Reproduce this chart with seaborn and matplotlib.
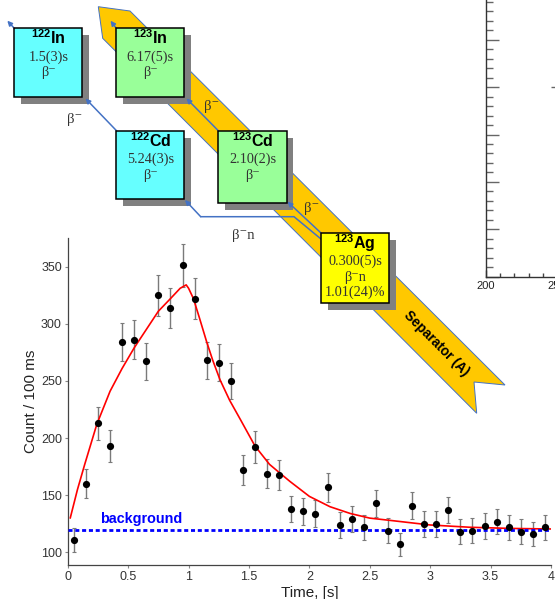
import matplotlib
matplotlib.use("Agg")
import matplotlib.pyplot as plt
import seaborn as sns
from matplotlib.patches import Polygon, Rectangle
from matplotlib.ticker import MultipleLocator

# ---------------- data ----------------
time_s = [0.05, 0.15, 0.25, 0.35, 0.45, 0.55, 0.65, 0.75, 0.85, 0.95,
          1.05, 1.15, 1.25, 1.35, 1.45, 1.55, 1.65, 1.75, 1.85, 1.95,
          2.05, 2.15, 2.25, 2.35, 2.45, 2.55, 2.65, 2.75, 2.85, 2.95,
          3.05, 3.15, 3.25, 3.35, 3.45, 3.55, 3.65, 3.75, 3.85, 3.95]
counts = [111, 160, 213, 193, 284, 286, 267, 325, 314, 351,
          322, 268, 266, 250, 172, 192, 169, 168, 138, 136,
          134, 157, 124, 129, 122, 143, 119, 107, 141, 125,
          125, 137, 118, 119, 123, 127, 122, 118, 116, 122]
count_err = [10.5, 12.6, 14.6, 13.9, 16.9, 16.9, 16.3, 18.0, 17.7, 18.7,
             17.9, 16.4, 16.3, 15.8, 13.1, 13.9, 13.0, 13.0, 11.7, 11.7,
             11.6, 12.5, 11.1, 11.4, 11.0, 12.0, 10.9, 10.3, 11.9, 11.2,
             11.2, 11.7, 10.9, 10.9, 11.1, 11.3, 11.0, 10.9, 10.8, 11.0]
fit_time = [0.02, 0.08, 0.14, 0.24, 0.35, 0.45, 0.55, 0.65, 0.75, 0.85,
            0.93, 0.98, 1.0, 1.04, 1.09, 1.15, 1.2, 1.26, 1.34, 1.43,
            1.55, 1.67, 1.76, 1.84, 2.0, 2.17, 2.34, 2.5, 2.67, 3.0,
            3.33, 3.66, 4.0]
fit_counts = [130, 155, 177, 212, 241, 261, 279, 295, 311, 322,
              331, 334, 331, 322, 305, 284, 268, 251, 233, 216,
              193, 177, 169, 162, 149, 140, 134, 130, 128, 124,
              122, 121, 120.5]
background_level = 119.5
x_ticks = [0, 0.5, 1, 1.5, 2, 2.5, 3, 3.5, 4]
x_tick_labels = ["0", "0.5", "1", "1.5", "2", "2.5", "3", "3.5", "4"]
y_ticks = [100, 150, 200, 250, 300, 350]
inset_x_ticks = [200, 250]
inset_x = [247.4]
inset_y = [4.0]

# ---------------- style ----------------
sns.set_style("ticks")
plt.rcParams["font.family"] = ["Liberation Sans", "DejaVu Sans"]
plt.rcParams["mathtext.fontset"] = "custom"
plt.rcParams["mathtext.rm"] = "Liberation Sans"
plt.rcParams["mathtext.bf"] = "Liberation Sans:bold"
plt.rcParams["mathtext.it"] = "Liberation Sans:italic"

W, H = 555, 599
fig = plt.figure(figsize=(W / 100, H / 100), dpi=100)

# ---------------- main axes ----------------
L, R, T, B = 67.8, 551, 238, 565
ax = fig.add_axes([L / W, 1 - B / H, (R - L) / W, (B - T) / H])
ax.errorbar(time_s, counts, yerr=count_err, fmt="none", ecolor="#7a7a7a",
            elinewidth=1.0, capsize=1.6, capthick=0.8, zorder=2)
sns.scatterplot(x=time_s, y=counts, ax=ax, color="black", s=27,
                linewidth=0, zorder=4, legend=False)
sns.lineplot(x=fit_time, y=fit_counts, ax=ax, color="red", lw=1.2,
             sort=False, zorder=3, legend=False)
ax.axhline(background_level, color="blue", lw=2.0, ls=(0, (1.45, 1.0)), zorder=3)
ax.text(0.61, 129.5, "background", color="blue", fontweight="bold",
        fontsize=10.4, ha="center", va="center")

ax.set_xlim(0, 4)
ax.set_ylim(89, 375)
ax.set_xticks(x_ticks)
ax.set_xticklabels(x_tick_labels)
ax.set_yticks(y_ticks)
ax.tick_params(direction="out", length=2.5, width=0.8, color="#888888",
               labelsize=9, labelcolor="#333333", pad=1.8)
ax.set_xlabel("Time, [s]", fontsize=11, color="#222222", labelpad=2)
ax.set_ylabel("Count / 100 ms", fontsize=11, color="#222222", labelpad=2)
sns.despine(ax=ax)
for s in ("left", "bottom"):
    ax.spines[s].set_color("#444444")
    ax.spines[s].set_linewidth(0.9)
ax.patch.set_alpha(0)

# ---------------- partial inset axes (top right) ----------------
ax2 = fig.add_axes([486 / W, 1 - 276.7 / H, 142 / W, 284.4 / H])
ax2.set_xlim(200, 300)
ax2.set_ylim(0, 6)
ax2.plot(inset_x, inset_y, marker="_", ms=3, color="#666666", ls="none")
ax2.xaxis.set_major_locator(MultipleLocator(50))
ax2.xaxis.set_minor_locator(MultipleLocator(10))
ax2.yaxis.set_major_locator(MultipleLocator(1))
ax2.yaxis.set_minor_locator(MultipleLocator(0.2))
ax2.set_xticks(inset_x_ticks)
ax2.set_xticklabels([str(v) for v in inset_x_ticks])
ax2.tick_params(axis="y", which="major", direction="in", length=9, width=1.0,
                color="#666666", labelleft=False)
ax2.tick_params(axis="y", which="minor", direction="in", length=4.8, width=1.0,
                color="#666666")
ax2.tick_params(axis="x", which="major", direction="in", length=5, width=1.0,
                color="#444444", labelsize=8, labelcolor="#222222", pad=3)
ax2.tick_params(axis="x", which="minor", direction="in", length=3, width=1.0,
                color="#444444")
for s in ("top", "right"):
    ax2.spines[s].set_visible(False)
for s in ("left", "bottom"):
    ax2.spines[s].set_color("#333333")
    ax2.spines[s].set_linewidth(1.0)
ax2.patch.set_alpha(0)

# ---------------- decay-scheme overlay ----------------
ov = fig.add_axes([0, 0, 1, 1], zorder=10)
ov.set_xlim(0, W)
ov.set_ylim(H, 0)
ov.axis("off")
ov.patch.set_alpha(0)

BLUE = "#4472C4"
band = Polygon([(98.3, 6.7), (130, 11), (505, 385), (474, 382),
                (476.7, 413.3), (102.7, 38.3)], closed=True,
               fc="#FFC800", ec=BLUE, lw=0.7, zorder=1)
ov.add_patch(band)
ov.text(436.7, 343.3, "Separator (A)", rotation=-45, rotation_mode="anchor",
        ha="center", va="center", fontsize=9.8, fontweight="bold",
        color="black", zorder=2)

SERIF = ["Liberation Serif", "DejaVu Serif"]

boxes = [
    # x0, y0, x1, y1, colour, mass, element, lines
    (14.3, 28.3, 82.3, 97.3, "#66FFFF", "122", "In", ["1.5(3)s", "β⁻"]),
    (116.3, 28.3, 184.3, 97.3, "#99FF99", "123", "In", ["6.17(5)s", "β⁻"]),
    (116.3, 130.7, 184.3, 199.3, "#66FFFF", "122", "Cd", ["5.24(3)s", "β⁻"]),
    (218.3, 130.7, 286.7, 202.5, "#99FF99", "123", "Cd", ["2.10(2)s", "β⁻"]),
    (321.0, 232.7, 389.3, 303.3, "#FFFF00", "123", "Ag",
     ["0.300(5)s", "β⁻n", "1.01(24)%"]),
]

for x0, y0, x1, y1, col, mass, el, lines in boxes:
    w, h = x1 - x0, y1 - y0
    ov.add_patch(Rectangle((x0 + 6.5, y0 + 7), w, h, fc="#808080", ec="none", zorder=3))
    ov.add_patch(Rectangle((x0, y0), w, h, fc=col, ec="black", lw=1.1, zorder=5))
    cx = (x0 + x1) / 2
    ov.text(cx, y0 + 16, r"$^{\mathbf{%s}}\mathbf{%s}$" % (mass, el),
            ha="center", va="baseline", fontsize=11.5, color="black", zorder=6)
    for i, ln in enumerate(lines):
        ov.text(cx, y0 + 29 + 15.5 * i, ln, ha="center", va="center",
                fontsize=10.3, color="#333333", family=SERIF, zorder=6)

arrow_kw = dict(arrowstyle="-|>", color=BLUE, lw=1.1, mutation_scale=7,
                shrinkA=0, shrinkB=0)
arrows = [
    ((14.3, 28.3), (7.3, 20.7)),
    ((116.3, 28.3), (110.5, 20.7)),
    ((116.5, 130.7), (85.5, 98.5)),
    ((218.3, 130.7), (186.5, 98.5)),
    ((321.0, 233.0), (287.5, 201.7)),
]
for tail, head in arrows:
    ov.annotate("", xy=head, xytext=tail, arrowprops=arrow_kw, zorder=4)

# beta-n path
ov.plot([321, 294, 200.7], [239, 216.7, 216.7], color=BLUE, lw=1.1, zorder=4)
ov.annotate("", xy=(185, 200), xytext=(200.7, 216.7), arrowprops=arrow_kw, zorder=4)

for (x, y, s) in [(75, 120, "β⁻"), (211.7, 106.7, "β⁻"), (311.7, 208.3, "β⁻"),
                  (243.3, 235.7, "β⁻n")]:
    ov.text(x, y, s, ha="center", va="center", fontsize=10.5,
            color="#333333", family=SERIF, zorder=6)

fig.savefig("out.png", dpi=100)
